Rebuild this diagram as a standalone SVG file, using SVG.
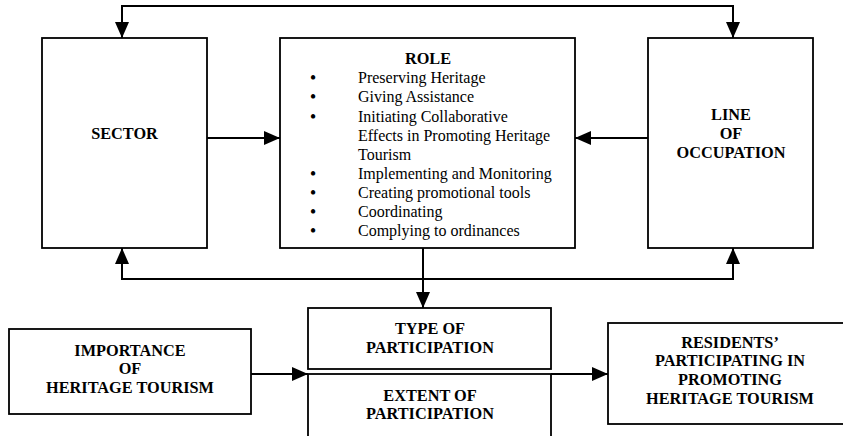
<svg xmlns="http://www.w3.org/2000/svg" width="843" height="436" viewBox="0 0 843 436">
  <style>
    .box { fill: #ffffff; stroke: #000000; stroke-width: 1.8; }
    .conn { fill: none; stroke: #000000; stroke-width: 2; }
    .b { font-family: "Liberation Serif", "Times New Roman", serif; font-weight: bold; font-size: 16.3px; fill: #000000; text-anchor: middle; }
    .r { font-family: "Liberation Serif", "Times New Roman", serif; font-size: 16px; fill: #000000; }
    .bul { font-family: "Liberation Serif", "Times New Roman", serif; font-size: 16px; font-weight: bold; fill: #000000; text-anchor: middle; }
  </style>
  <defs>
    <marker id="arr" markerUnits="userSpaceOnUse" markerWidth="16" markerHeight="14" refX="16" refY="7" orient="auto-start-reverse">
      <path d="M0,0 L16,7 L0,14 z" fill="#000000"/>
    </marker>
  </defs>
  <rect width="843" height="436" fill="#ffffff"/>

  <g id="connectors">
    <path class="conn" d="M122,38 L122,6 L733,6 L733,38" marker-start="url(#arr)" marker-end="url(#arr)"/>
    <path class="conn" d="M122,248 L122,279 L733,279 L733,248" marker-start="url(#arr)" marker-end="url(#arr)"/>
    <path class="conn" d="M207,138 L280,138" marker-end="url(#arr)"/>
    <path class="conn" d="M648,138 L575,138" marker-end="url(#arr)"/>
    <path class="conn" d="M423,248 L423,308" marker-end="url(#arr)"/>
    <path class="conn" d="M251,374 L308,374" marker-end="url(#arr)"/>
    <path class="conn" d="M551,374 L608,374" marker-end="url(#arr)"/>
  </g>

  <g id="sector">
    <rect class="box" x="42" y="38" width="165" height="210"/>
    <text class="b" x="124.5" y="138.5">SECTOR</text>
  </g>

  <g id="role">
    <rect class="box" x="280" y="38" width="295" height="210"/>
    <text class="b" x="428" y="63.5">ROLE</text>
    <text class="bul" x="313" y="83">•</text>
    <text class="r" x="358" y="83">Preserving Heritage</text>
    <text class="bul" x="313" y="102">•</text>
    <text class="r" x="358" y="102">Giving Assistance</text>
    <text class="bul" x="313" y="121.5">•</text>
    <text class="r" x="358" y="121.5">Initiating Collaborative</text>
    <text class="r" x="358" y="140.5">Effects in Promoting Heritage</text>
    <text class="r" x="358" y="159.5">Tourism</text>
    <text class="bul" x="313" y="179">•</text>
    <text class="r" x="358" y="179">Implementing and Monitoring</text>
    <text class="bul" x="313" y="198">•</text>
    <text class="r" x="358" y="198">Creating promotional tools</text>
    <text class="bul" x="313" y="217">•</text>
    <text class="r" x="358" y="217">Coordinating</text>
    <text class="bul" x="313" y="236">•</text>
    <text class="r" x="358" y="236">Complying to ordinances</text>
  </g>

  <g id="occupation">
    <rect class="box" x="648" y="38" width="165" height="210"/>
    <text class="b" x="731" y="119.5">LINE</text>
    <text class="b" x="731" y="138.5">OF</text>
    <text class="b" x="731" y="157.5">OCCUPATION</text>
  </g>

  <g id="importance">
    <rect class="box" x="9" y="329" width="242" height="85"/>
    <text class="b" x="130" y="355.5">IMPORTANCE</text>
    <text class="b" x="130" y="374">OF</text>
    <text class="b" x="130" y="392.5">HERITAGE TOURISM</text>
  </g>

  <g id="type">
    <rect class="box" x="308" y="308" width="243" height="61"/>
    <text class="b" x="430" y="333.5">TYPE OF</text>
    <text class="b" x="430" y="352.5">PARTICIPATION</text>
  </g>

  <g id="extent">
    <rect class="box" x="308" y="374" width="243" height="80"/>
    <text class="b" x="430" y="400.5">EXTENT OF</text>
    <text class="b" x="430" y="418.5">PARTICIPATION</text>
  </g>

  <g id="residents">
    <rect class="box" x="608" y="323" width="250" height="101"/>
    <text class="b" x="730" y="347.5">RESIDENTS’</text>
    <text class="b" x="730" y="366">PARTICIPATING IN</text>
    <text class="b" x="730" y="384.5">PROMOTING</text>
    <text class="b" x="730" y="403.5">HERITAGE TOURISM</text>
  </g>
</svg>
